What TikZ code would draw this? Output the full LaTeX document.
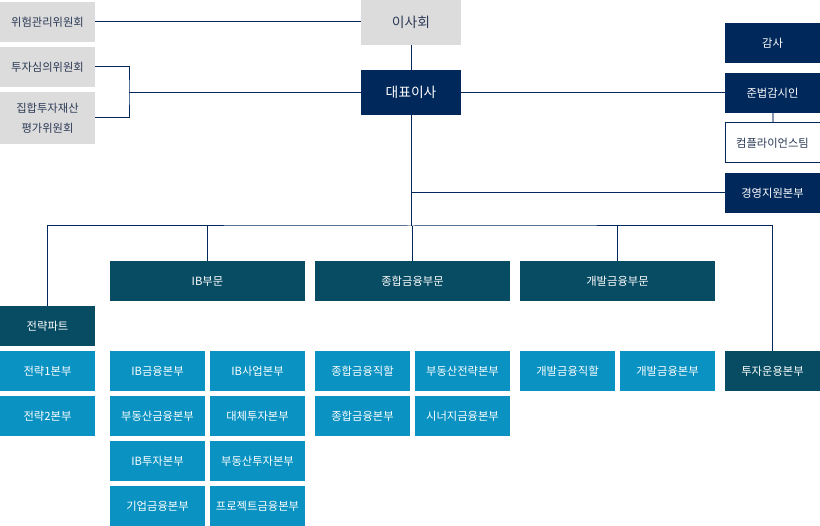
\documentclass[tikz,border=0pt]{standalone}
\usepackage{fontspec}
\newfontfamily\kr{Noto Sans CJK KR}
\definecolor{navyblue}{HTML}{00285A}
\definecolor{deepteal}{HTML}{084C63}
\definecolor{skyteal}{HTML}{0992C2}
\definecolor{boxgray}{HTML}{DDDCDD}
\definecolor{inkgray}{HTML}{2B3A55}
\definecolor{softline}{HTML}{8798B3}
\begin{document}
\begin{tikzpicture}[x=1pt,y=-1pt,
  unit/.style={minimum width=95pt,minimum height=40pt,inner sep=0pt,
    font=\kr\fontsize{11.3}{20}\selectfont,text=white},
  grey/.style={unit,fill=boxgray,text=inkgray},
  navybox/.style={unit,fill=navyblue},
  outline/.style={unit,fill=white,draw=navyblue,line width=1pt,text=inkgray},
  darkbox/.style={unit,fill=deepteal},
  lightbox/.style={unit,fill=skyteal},
  wide/.style={minimum width=195pt},
  big/.style={minimum width=100pt,minimum height=45pt,font=\kr\fontsize{13.8}{16}\selectfont},
  link/.style={draw=navyblue,line width=1pt},
  soft/.style={draw=softline,line width=2pt}]
\useasboundingbox (0,0) rectangle (820,526);
% committees
\node[grey] (risk) at (47.5,22) {위험관리위원회};
\node[grey] (inv) at (47.5,67) {투자심의위원회};
\node[grey,minimum height=52pt,align=center] (fund) at (47.5,118) {집합투자재산\\평가위원회};
\node[grey,big] (board) at (411,22.5) {이사회};
\node[navybox,big] (ceo) at (411,92.5) {대표이사};
% right column
\node[navybox] (audit) at (772.5,43) {감사};
\node[navybox] (cpl) at (772.5,93) {준법감시인};
\node[outline] (team) at (772.5,143) {컴플라이언스팀};
\node[navybox] (mgmt) at (772.5,193) {경영지원본부};
% divisions
\node[darkbox] (strat) at (47.5,326) {전략파트};
\node[darkbox,wide] (ib) at (207.5,281) {IB부문};
\node[darkbox,wide] (gf) at (412.5,281) {종합금융부문};
\node[darkbox,wide] (df) at (617.5,281) {개발금융부문};
\node[darkbox] (ops) at (772.5,371) {투자운용본부};
% headquarters
\node[lightbox] (s1) at (47.5,371) {전략1본부};
\node[lightbox] (s2) at (47.5,416) {전략2본부};
\node[lightbox] (ib1) at (157.5,371) {IB금융본부};
\node[lightbox] (ib2) at (257.5,371) {IB사업본부};
\node[lightbox] (ib3) at (157.5,416) {부동산금융본부};
\node[lightbox] (ib4) at (257.5,416) {대체투자본부};
\node[lightbox] (ib5) at (157.5,461) {IB투자본부};
\node[lightbox] (ib6) at (257.5,461) {부동산투자본부};
\node[lightbox] (ib7) at (157.5,506) {기업금융본부};
\node[lightbox] (ib8) at (257.5,506) {프로젝트금융본부};
\node[lightbox] (gf1) at (362.5,371) {종합금융직할};
\node[lightbox] (gf2) at (462.5,371) {부동산전략본부};
\node[lightbox] (gf3) at (362.5,416) {종합금융본부};
\node[lightbox] (gf4) at (462.5,416) {시너지금융본부};
\node[lightbox] (df1) at (567.5,371) {개발금융직할};
\node[lightbox] (df2) at (667.5,371) {개발금융본부};
% connectors
\coordinate (j) at (129,92.5);
\coordinate (bus) at (411,226);
\draw[link] (risk.east) -- (risk.east-|board.west);
\draw[link] (board) -- (ceo);
\draw[link] (inv.east) -| (j) |- (fund.east);
\draw[link] (j) -- (ceo.west);
\draw[link] (ceo.east) -- (ceo.east-|cpl.west);
\draw[soft] (cpl) -- (team);
\draw[link] (ceo) -- (bus);
\draw[link] (bus|-mgmt) -- (mgmt);
\draw[link] (strat) |- (bus) -| (ops);
\draw[link] (ib) -- (ib|-bus);
\draw[link] (gf) -- (gf|-bus);
\draw[link] (df) -- (df|-bus);
\end{tikzpicture}
\end{document}
